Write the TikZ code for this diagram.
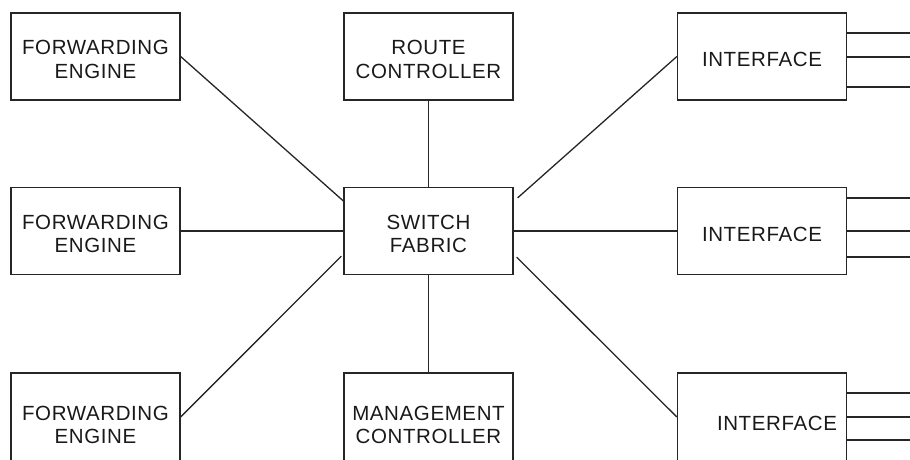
\documentclass[tikz,border=0pt]{standalone}
\usepackage{fontspec}
\setmainfont{Liberation Sans}[LetterSpace=3]
\usetikzlibrary{calc}
\begin{document}
\begin{tikzpicture}[x=1pt,y=1pt,
  txt/.style={align=center,inner sep=0pt,font=\fontsize{20.5}{23.3}\selectfont,text=black!90},
  box/.style={draw=black!85,line width=1.3pt,rectangle,minimum width=169pt,minimum height=87pt,inner sep=0pt,
    label={[txt,yshift=-3pt]center:#1}},
  tall/.style={box=#1,minimum height=98pt},
  conn/.style={draw=black!85,line width=1.3pt}]
\useasboundingbox (0,0) rectangle (910,-459);
\clip (0,0) rectangle (910,-459);
% top row
\node[box={FORWARDING\\ENGINE}] (fe1) at (95.5,-56.5) {};
\node[box={ROUTE\\CONTROLLER}] (rc) at (428.5,-56.5) {};
\node[box={INTERFACE}] (if1) at (762,-56.5) {};
% middle row
\node[box={FORWARDING\\ENGINE}] (fe2) at (95.5,-231) {};
\node[box={SWITCH\\FABRIC}] (sf) at (428.5,-231) {};
\node[box={INTERFACE}] (if2) at (762,-231) {};
% bottom row
\node[tall={FORWARDING\\ENGINE}] (fe3) at (95.5,-422) {};
\node[tall={MANAGEMENT\\CONTROLLER}] (mc) at (428.5,-422) {};
\node[draw=black!85,line width=1.3pt,minimum width=169pt,minimum height=98pt,inner sep=0pt,
  label={[txt,xshift=15pt,yshift=-1pt]center:INTERFACE}] (if3) at (762,-422) {};
% connectors
\draw[conn] (fe1.east) -- ($(sf.north west)+(1,-15)$);
\draw[conn] (fe2.east) -- (sf.west);
\draw[conn] ($(fe3.east)+(0,5)$) -- ($(sf.south west)+(-2,19)$);
\draw[conn] (rc.south) -- (sf.north);
\draw[conn] (sf.south) -- (mc.north);
\draw[conn] ($(sf.north east)+(4,-11)$) -- (if1.west);
\draw[conn] (sf.east) -- (if2.west);
\draw[conn] ($(sf.south east)+(3,18)$) -- ($(if3.west)+(0,5)$);
% interface outputs
\foreach \n/\a/\b/\c in {if1/-33/-57/-87, if2/-198/-231/-257, if3/-393/-417/-440}{
  \draw[conn] (\n.east|-0,\a) -- (910,\a);
  \draw[conn] (\n.east|-0,\b) -- (910,\b);
  \draw[conn] (\n.east|-0,\c) -- (910,\c);
}
\end{tikzpicture}
\end{document}
